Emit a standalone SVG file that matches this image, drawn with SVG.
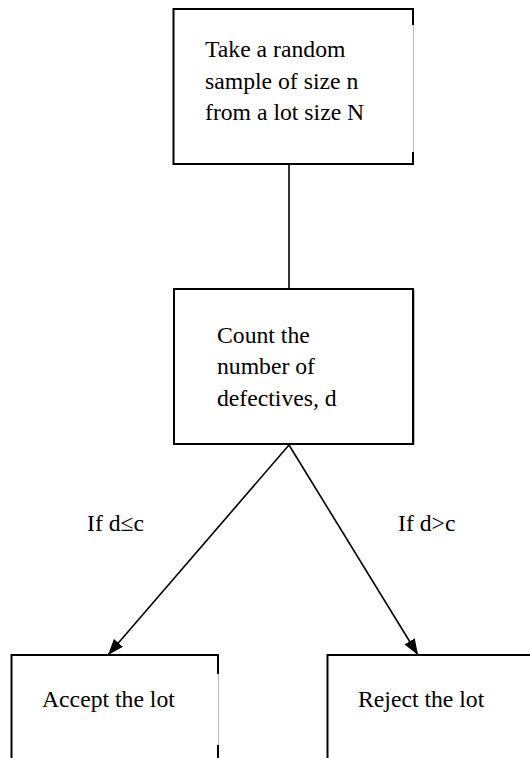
<svg xmlns="http://www.w3.org/2000/svg" width="530" height="758" viewBox="0 0 530 758">
<defs>
<style>
text{font-family:'Liberation Serif','Times New Roman','DejaVu Serif',serif;font-size:23.7px;fill:#000}
.k{stroke:#000;stroke-width:2;fill:none}
.g{stroke:#bbb;stroke-width:1;fill:none}
.c{stroke:#000;stroke-width:1.6;fill:none}
</style>
<marker id="ah2" viewBox="0 0 16 12" refX="16" refY="6" markerWidth="16" markerHeight="12" markerUnits="userSpaceOnUse" orient="auto">
<path d="M0,0 L16,6 L0,12 z" fill="#000"/>
</marker>
</defs>
<rect width="530" height="758" fill="#fff"/>
<g id="connectors">
<line class="c" x1="289" y1="164" x2="289" y2="289"/>
<line class="c" x1="289" y1="445" x2="108" y2="655" marker-end="url(#ah2)"/>
<line class="c" x1="289" y1="445" x2="418" y2="655" marker-end="url(#ah2)"/>
<text x="87" y="531" font-family="Liberation Serif, serif">If d≤c</text>
<text x="398" y="531" font-family="Liberation Serif, serif">If d&gt;c</text>
</g>
<g id="node-sample">
<path class="k" d="M413,25 V9 H173.5 V164 H413 V152"/>
<line class="g" x1="413.5" y1="25" x2="413.5" y2="152"/>
<text x="205" y="57" font-family="Liberation Serif, serif">Take a random</text>
<text x="205" y="89" font-family="Liberation Serif, serif">sample of size n</text>
<text x="205" y="120" font-family="Liberation Serif, serif">from a lot size N</text>
</g>
<g id="node-count">
<rect x="174" y="289" width="239" height="155" fill="#fff" stroke="#000" stroke-width="2"/>
<line class="g" x1="414.5" y1="290" x2="414.5" y2="445"/>
<text x="217" y="343" font-family="Liberation Serif, serif">Count the</text>
<text x="217" y="374" font-family="Liberation Serif, serif">number of</text>
<text x="217" y="406" font-family="Liberation Serif, serif">defectives, d</text>
</g>
<g id="node-accept">
<path class="k" d="M218,674 V655 H11.5 V758"/>
<line class="k" x1="218" y1="745" x2="218" y2="758"/>
<line class="g" x1="218.5" y1="674" x2="218.5" y2="745"/>
<text x="42" y="707" font-family="Liberation Serif, serif">Accept the lot</text>
</g>
<g id="node-reject">
<path class="k" d="M532,655 H327.5 V758"/>
<text x="358" y="707" font-family="Liberation Serif, serif">Reject the lot</text>
</g>
</svg>
